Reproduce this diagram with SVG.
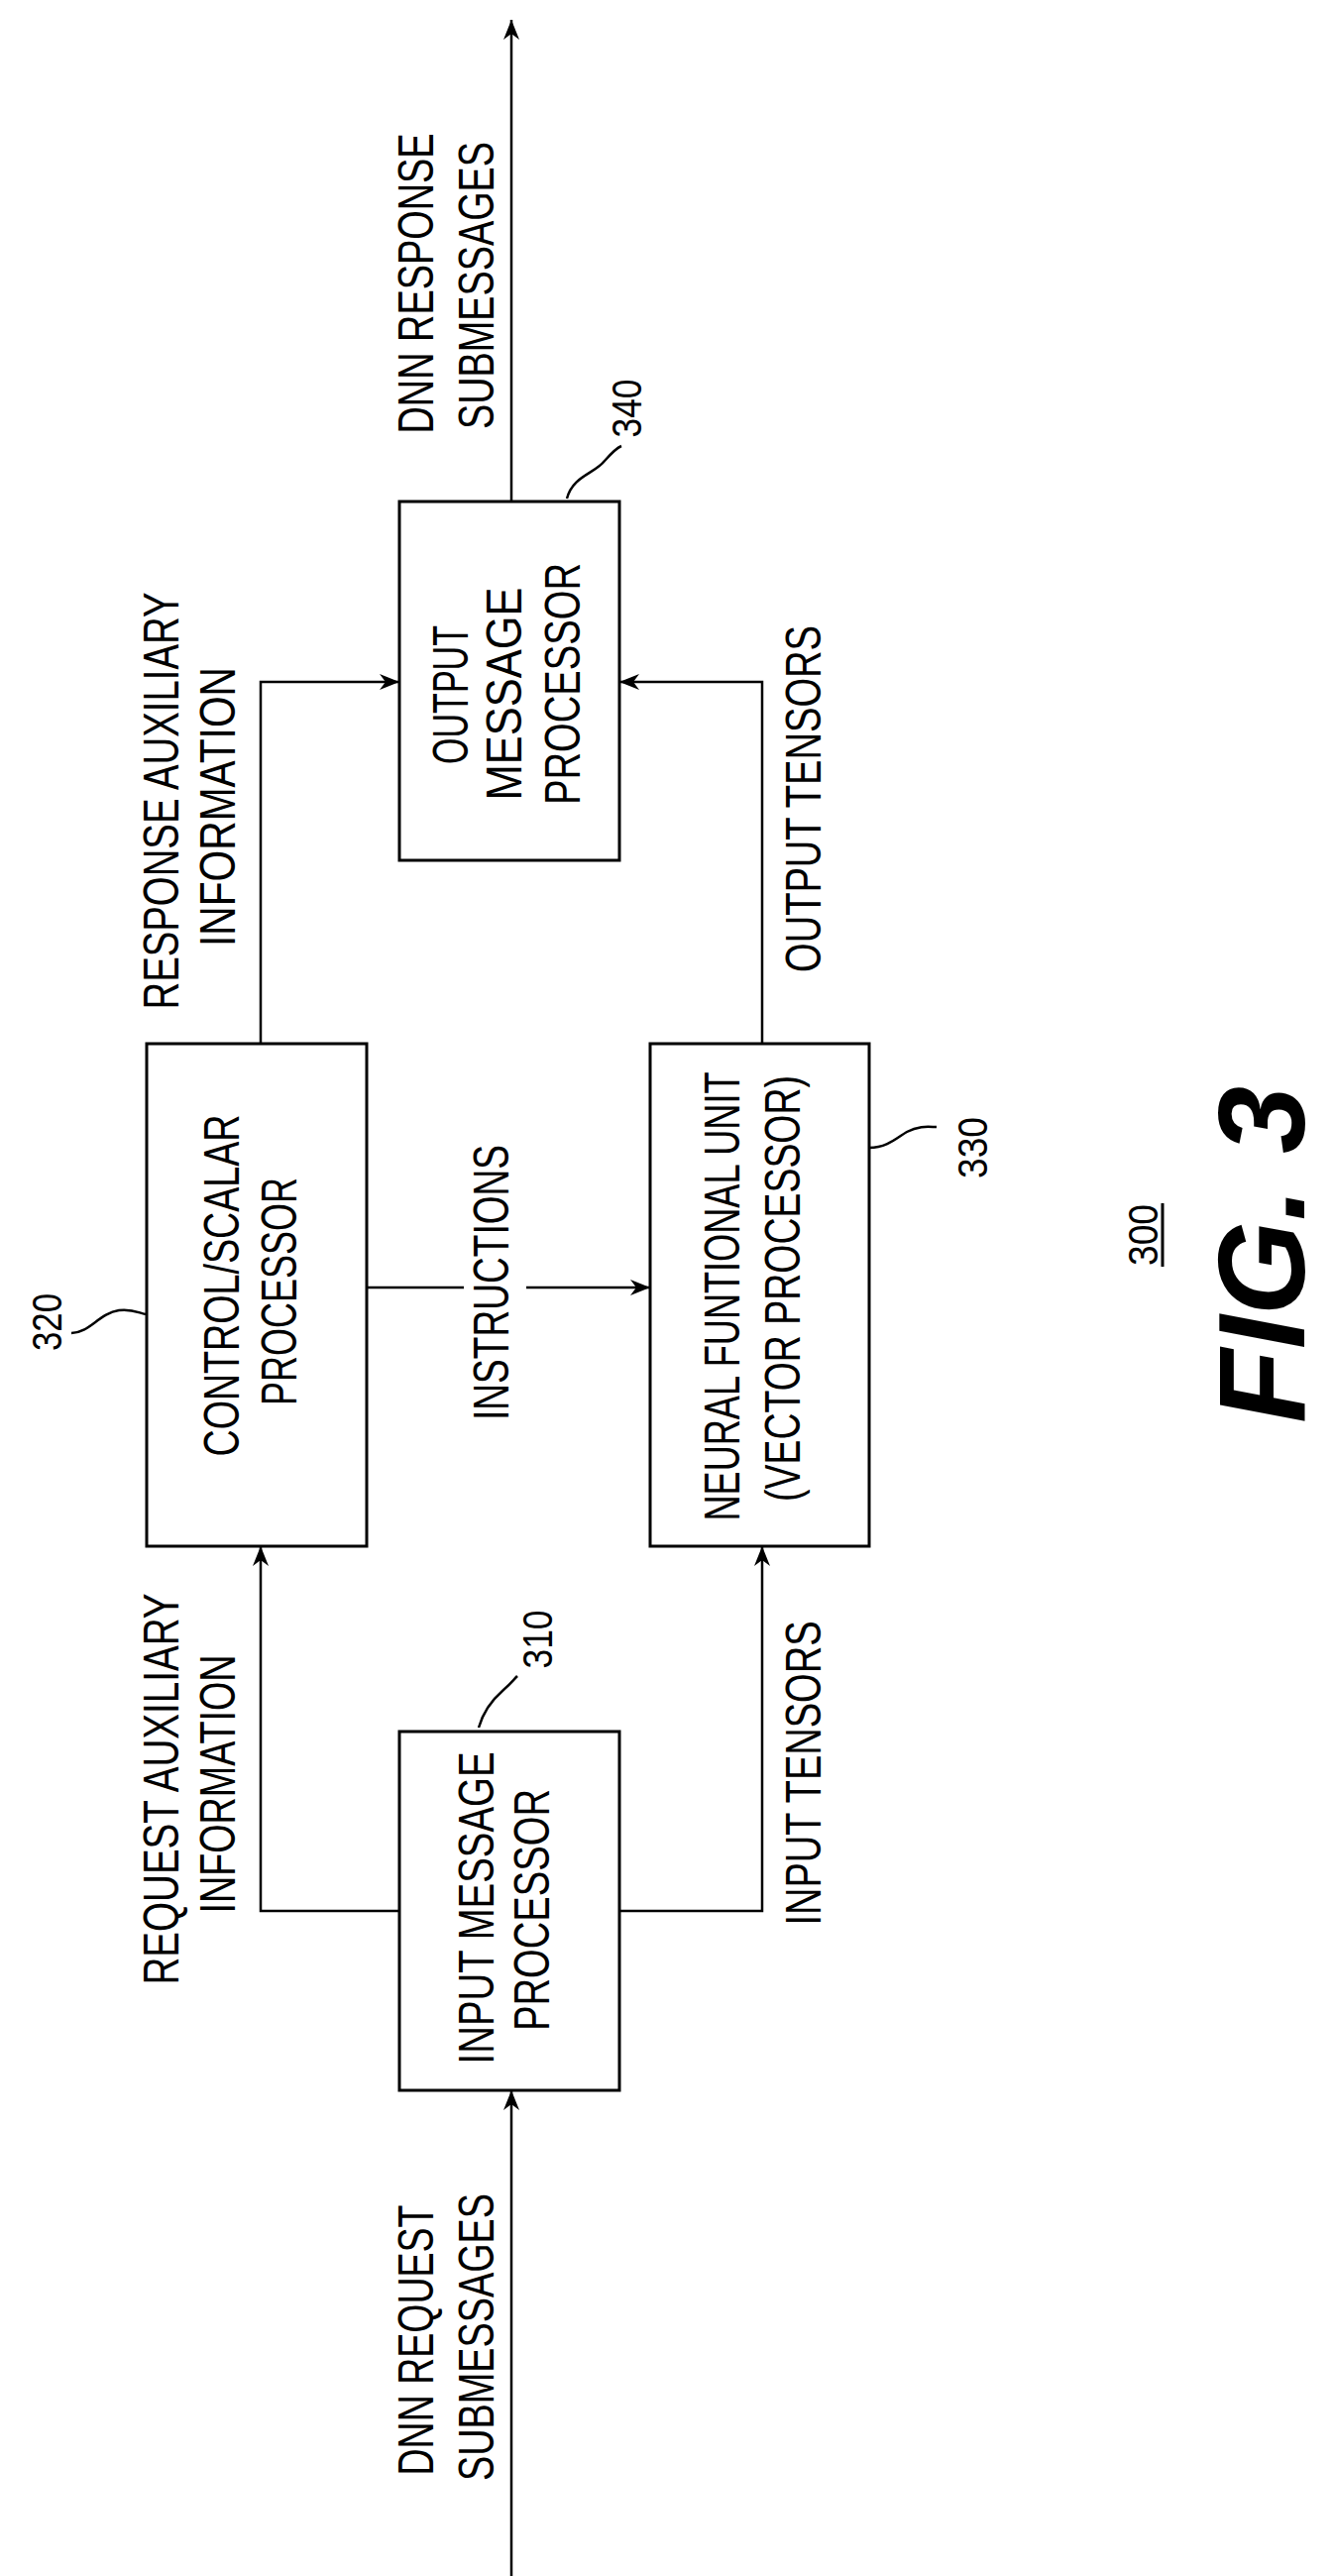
<svg xmlns="http://www.w3.org/2000/svg" width="1345" height="2599" viewBox="0 0 1345 2599">
<style>
.box{fill:none;stroke:#000;stroke-width:3}
.ln{fill:none;stroke:#000;stroke-width:2.5}
.t{font-family:"Liberation Sans",Arial,sans-serif;font-size:50px;text-anchor:middle;fill:#000}
.r{font-family:"Liberation Sans",Arial,sans-serif;font-size:42px;text-anchor:middle;fill:#000}
</style>
<defs>
<marker id="a" viewBox="0 0 20 16" refX="20" refY="8" markerWidth="20" markerHeight="16" markerUnits="userSpaceOnUse" orient="auto">
<path d="M0,0 L20,8 L0,16 L6,8 Z" fill="#000"/>
</marker>
</defs>
<rect width="1345" height="2599" fill="#fff"/>
<g id="connectors">
<line class="ln" x1="516" y1="2599" x2="516" y2="2109" marker-end="url(#a)"/>
<polyline class="ln" points="403,1928 263,1928 263,1560" marker-end="url(#a)"/>
<polyline class="ln" points="625,1928 769,1928 769,1560" marker-end="url(#a)"/>
<line class="ln" x1="370" y1="1299" x2="468" y2="1299"/>
<line class="ln" x1="531" y1="1299" x2="656" y2="1299" marker-end="url(#a)"/>
<polyline class="ln" points="263,1053 263,688 403,688" marker-end="url(#a)"/>
<polyline class="ln" points="769,1053 769,688 625,688" marker-end="url(#a)"/>
<line class="ln" x1="516" y1="506" x2="516" y2="20" marker-end="url(#a)"/>
<text class="t" transform="translate(437,286) rotate(-90)" textLength="303" lengthAdjust="spacingAndGlyphs">DNN RESPONSE</text>
<text class="t" transform="translate(498,288) rotate(-90)" textLength="290" lengthAdjust="spacingAndGlyphs">SUBMESSAGES</text>
<text class="t" transform="translate(180,808) rotate(-90)" textLength="421" lengthAdjust="spacingAndGlyphs">RESPONSE AUXILIARY</text>
<text class="t" transform="translate(237,814) rotate(-90)" textLength="282" lengthAdjust="spacingAndGlyphs">INFORMATION</text>
<text class="t" transform="translate(828,806) rotate(-90)" textLength="350" lengthAdjust="spacingAndGlyphs">OUTPUT TENSORS</text>
<text class="t" transform="translate(513,1294) rotate(-90)" textLength="278" lengthAdjust="spacingAndGlyphs">INSTRUCTIONS</text>
<text class="t" transform="translate(180,1805) rotate(-90)" textLength="395" lengthAdjust="spacingAndGlyphs">REQUEST AUXILIARY</text>
<text class="t" transform="translate(237,1800) rotate(-90)" textLength="261" lengthAdjust="spacingAndGlyphs">INFORMATION</text>
<text class="t" transform="translate(828,1789) rotate(-90)" textLength="307" lengthAdjust="spacingAndGlyphs">INPUT TENSORS</text>
<text class="t" transform="translate(437,2361) rotate(-90)" textLength="273" lengthAdjust="spacingAndGlyphs">DNN REQUEST</text>
<text class="t" transform="translate(498,2358) rotate(-90)" textLength="290" lengthAdjust="spacingAndGlyphs">SUBMESSAGES</text>
</g>
<g id="n340">
<rect class="box" x="403" y="506" width="222" height="362"/>
<text class="t" transform="translate(472,701) rotate(-90)" textLength="140" lengthAdjust="spacingAndGlyphs">OUTPUT</text>
<text class="t" transform="translate(526,700) rotate(-90)" textLength="215" lengthAdjust="spacingAndGlyphs">MESSAGE</text>
<text class="t" transform="translate(585,690) rotate(-90)" textLength="244" lengthAdjust="spacingAndGlyphs">PROCESSOR</text>
<path class="ln" d="M572,503 C578,480 600,478 610,465 C618,456 622,452 627,450" stroke-width="2"/>
<text class="r" transform="translate(647,412) rotate(-90)" textLength="59" lengthAdjust="spacingAndGlyphs">340</text>
</g>
<g id="n320">
<rect class="box" x="148" y="1053" width="222" height="507"/>
<text class="t" transform="translate(241,1297) rotate(-90)" textLength="345" lengthAdjust="spacingAndGlyphs">CONTROL/SCALAR</text>
<text class="t" transform="translate(299,1303) rotate(-90)" textLength="230" lengthAdjust="spacingAndGlyphs">PROCESSOR</text>
<path class="ln" d="M72,1345 C90,1345 100,1325 120,1322 C135,1320 142,1326 148,1326" stroke-width="2"/>
<text class="r" transform="translate(62,1334) rotate(-90)" textLength="58" lengthAdjust="spacingAndGlyphs">320</text>
</g>
<g id="n330">
<rect class="box" x="656" y="1053" width="221" height="507"/>
<text class="t" transform="translate(746,1308) rotate(-90)" textLength="453" lengthAdjust="spacingAndGlyphs">NEURAL FUNTIONAL UNIT</text>
<text class="t" transform="translate(807,1300) rotate(-90)" textLength="430" lengthAdjust="spacingAndGlyphs">(VECTOR PROCESSOR)</text>
<path class="ln" d="M877,1158 C895,1158 905,1148 915,1142 C928,1135 938,1137 945,1137" stroke-width="2"/>
<text class="r" transform="translate(996,1158) rotate(-90)" textLength="62" lengthAdjust="spacingAndGlyphs">330</text>
</g>
<g id="n310">
<rect class="box" x="403" y="1747" width="222" height="362"/>
<text class="t" transform="translate(498,1925) rotate(-90)" textLength="315" lengthAdjust="spacingAndGlyphs">INPUT MESSAGE</text>
<text class="t" transform="translate(554,1927) rotate(-90)" textLength="244" lengthAdjust="spacingAndGlyphs">PROCESSOR</text>
<path class="ln" d="M483,1743 C488,1725 500,1712 508,1705 C515,1699 518,1695 522,1691" stroke-width="2"/>
<text class="r" transform="translate(557,1654) rotate(-90)" textLength="59" lengthAdjust="spacingAndGlyphs">310</text>
</g>
<g id="caption">
<text class="r" transform="translate(1168,1246) rotate(-90)" textLength="62" lengthAdjust="spacingAndGlyphs">300</text>
<line x1="1173" y1="1214" x2="1173" y2="1278" stroke="#000" stroke-width="3"/>
<text transform="translate(1316,1266) rotate(-90)" font-family="'Liberation Sans',Arial,sans-serif" font-size="124" font-weight="bold" font-style="italic" text-anchor="middle" textLength="340" lengthAdjust="spacingAndGlyphs">FIG. 3</text>
</g>
</svg>
